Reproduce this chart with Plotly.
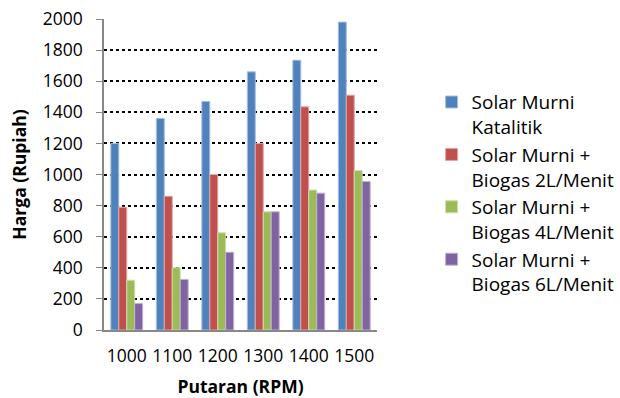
import plotly.graph_objects as go

# Engine speed categories (RPM)
putaran = ["1000", "1100", "1200", "1300", "1400", "1500"]

# Cost per configuration (Rupiah)
solar_katalitik = [1200, 1360, 1470, 1660, 1735, 1980]
biogas_2l = [790, 860, 1000, 1200, 1435, 1510]
biogas_4l = [320, 400, 625, 760, 900, 1025]
biogas_6l = [170, 325, 500, 760, 880, 955]

series_names = [
    "Solar Murni<br>Katalitik",
    "Solar Murni +<br>Biogas 2L/Menit",
    "Solar Murni +<br>Biogas 4L/Menit",
    "Solar Murni +<br>Biogas 6L/Menit",
]
series_values = [solar_katalitik, biogas_2l, biogas_4l, biogas_6l]
colors = ["#4F81BD", "#C0504D", "#9BBB59", "#8064A2"]
edges = ["#A7C0DE", "#DFA8A6", "#CDDDAC", "#BFB1D0"]

FONT = "Open Sans"

fig = go.Figure()
for i, (name, vals) in enumerate(zip(series_names, series_values)):
    fig.add_trace(go.Bar(
        x=putaran, y=vals, name=name,
        marker=dict(color=colors[i], line=dict(color=edges[i], width=1)),
        legendgroup=f"g{i}",
    ))

fig.update_layout(
    width=620, height=398,
    margin=dict(l=104, r=243, t=19, b=68, autoexpand=False),
    paper_bgcolor="white", plot_bgcolor="white",
    barmode="group", bargap=0.3, bargroupgap=0,
    font=dict(family=FONT, size=16, color="black"),
    legend=dict(
        x=1.20, y=0.44, xanchor="left", yanchor="middle",
        font=dict(family=FONT, size=19, color="black"),
        tracegroupgap=0, itemwidth=30, valign="top",
        bgcolor="rgba(0,0,0,0)",
    ),
    showlegend=True,
)

fig.update_yaxes(
    range=[0, 2000], dtick=200, automargin=False,
    showgrid=True, gridcolor="black", griddash="dot", gridwidth=2,
    showline=True, linecolor="#888888", linewidth=1.5,
    ticks="outside", ticklen=6, tickcolor="#888888",
    ticklabelstandoff=10,
    zeroline=False,
    tickfont=dict(family=FONT, size=17.5, color="black"),
    title=dict(text="<b>Harga (Rupiah)</b>", font=dict(family=FONT, size=17.5, color="black"), standoff=12),
)
fig.update_xaxes(
    automargin=False,
    showline=True, linecolor="#888888", linewidth=1.5,
    ticks="", ticklabelstandoff=9,
    tickfont=dict(family=FONT, size=17.5, color="black"),
    title=dict(text="<b>Putaran (RPM)</b>", font=dict(family=FONT, size=17.5, color="black"), standoff=18),
)

fig.write_html("out.html")
